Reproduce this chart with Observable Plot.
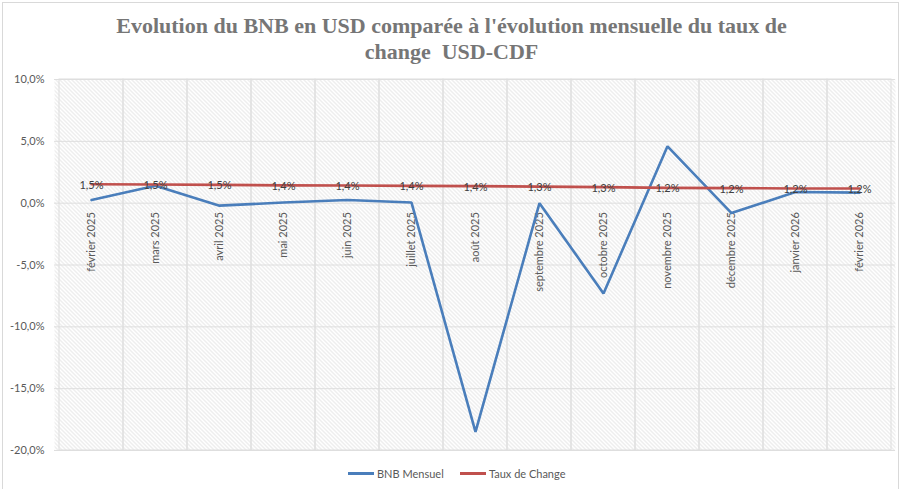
<!DOCTYPE html>
<html>
<head>
<meta charset="utf-8">
<script src="https://cdn.jsdelivr.net/npm/d3@7"></script>
<script src="https://cdn.jsdelivr.net/npm/@observablehq/plot@0.6"></script>
<style>
  html, body { margin: 0; padding: 0; background: #fff; }
  #wrap { position: relative; width: 903px; height: 489px; overflow: hidden; }
  #border { position: absolute; left: 2px; top: 2px; width: 897px; height: 490px; border: 1px solid #d9d9d9; box-sizing: border-box; }
  #title { position: absolute; left: 0; top: 13px; width: 903px; text-align: center; font-family: "Liberation Serif", serif; font-weight: bold; font-size: 22px; line-height: 26px; color: #767676; }
  #chart { position: absolute; left: 0; top: 0; }
  #legend { position: absolute; top: 467px; left: 0; width: 903px; font-family: Lato, sans-serif; font-size: 11px; color: #595959; }
  .item { position: absolute; display: flex; align-items: center; }
  .swatch { width: 26px; height: 3px; margin-right: 3px; }
</style>
</head>
<body>
<div id="wrap">
  <div id="border"></div>
  <div id="chart"></div>
  <div id="title">Evolution du BNB en USD comparée à l'évolution mensuelle du taux de<br>change&nbsp; USD-CDF</div>
  <div id="legend"></div>
</div>
<script>
const months = ["février 2025","mars 2025","avril 2025","mai 2025","juin 2025","juillet 2025","août 2025","septembre 2025","octobre 2025","novembre 2025","décembre 2025","janvier 2026","février 2026"];
const bnbMensuel = [0.25, 1.4, -0.2, 0.05, 0.25, 0.05, -18.5, 0.0, -7.3, 4.6, -0.8, 0.9, 0.85];
const tauxDeChange = [1.53, 1.51, 1.48, 1.44, 1.43, 1.40, 1.38, 1.34, 1.30, 1.24, 1.22, 1.19, 1.18];
const yTicks = [-20, -15, -10, -5, 0, 5, 10];
const seriesNames = ["BNB Mensuel", "Taux de Change"];
const seriesColors = ["#4a7ebb", "#c0504d"];

const fmt = d => d.toFixed(1).replace(".", ",") + "%";
const rows = months.map((m, i) => ({month: m, bnb: bnbMensuel[i], taux: tauxDeChange[i]}));

const chart = Plot.plot({
  width: 903,
  height: 489,
  marginTop: 79,
  marginBottom: 39,
  marginLeft: 54,
  marginRight: 8,
  style: {fontFamily: "Lato, sans-serif", fontSize: "11px", color: "#595959", background: "transparent"},
  x: {type: "band", domain: months, padding: 0, axis: null},
  y: {domain: [-20, 10], ticks: yTicks, tickFormat: fmt, tickSize: 0, tickPadding: 10, label: null},
  marks: [
    Plot.frame({fill: "url(#hatch)", stroke: "none"}),
    Plot.barY(months, {x: d => d, y1: -20, y2: 10, fill: "none", stroke: "#dedede", strokeWidth: 1}),
    Plot.ruleY(yTicks, {stroke: "#dedede", strokeWidth: 1}),
    Plot.text(months, {x: d => d, y: 0, text: d => d, rotate: -90, textAnchor: "end", dy: 9, fill: "#595959", fontSize: 11}),
    Plot.line(rows, {x: "month", y: "bnb", stroke: seriesColors[0], strokeWidth: 2.6, strokeLinejoin: "miter"}),
    Plot.line(rows, {x: "month", y: "taux", stroke: seriesColors[1], strokeWidth: 2.6}),
    Plot.text(rows, {x: "month", y: "taux", text: d => fmt(d.taux), fill: "#404040", fontSize: 11, dy: 1})
  ]
});

const svg = d3.select(chart);
const defs = svg.insert("defs", ":first-child");
const pat = defs.append("pattern").attr("id", "hatch").attr("patternUnits", "userSpaceOnUse")
  .attr("width", 4).attr("height", 4);
pat.append("rect").attr("width", 4).attr("height", 4).attr("fill", "#ffffff");
pat.append("path").attr("d", "M-1,-1 L5,5 M-1,3 L1,5 M3,-1 L5,1")
  .attr("stroke", "#d8d8d8").attr("stroke-width", 0.9);
document.getElementById("chart").appendChild(chart);

const legend = document.getElementById("legend");
const lefts = [348, 460];
seriesNames.forEach((name, i) => {
  const it = document.createElement("div");
  it.className = "item";
  it.style.left = lefts[i] + "px";
  const sw = document.createElement("div");
  sw.className = "swatch";
  sw.style.background = seriesColors[i];
  const lb = document.createElement("span");
  lb.textContent = name;
  it.appendChild(sw); it.appendChild(lb);
  legend.appendChild(it);
});
</script>
</body>
</html>
